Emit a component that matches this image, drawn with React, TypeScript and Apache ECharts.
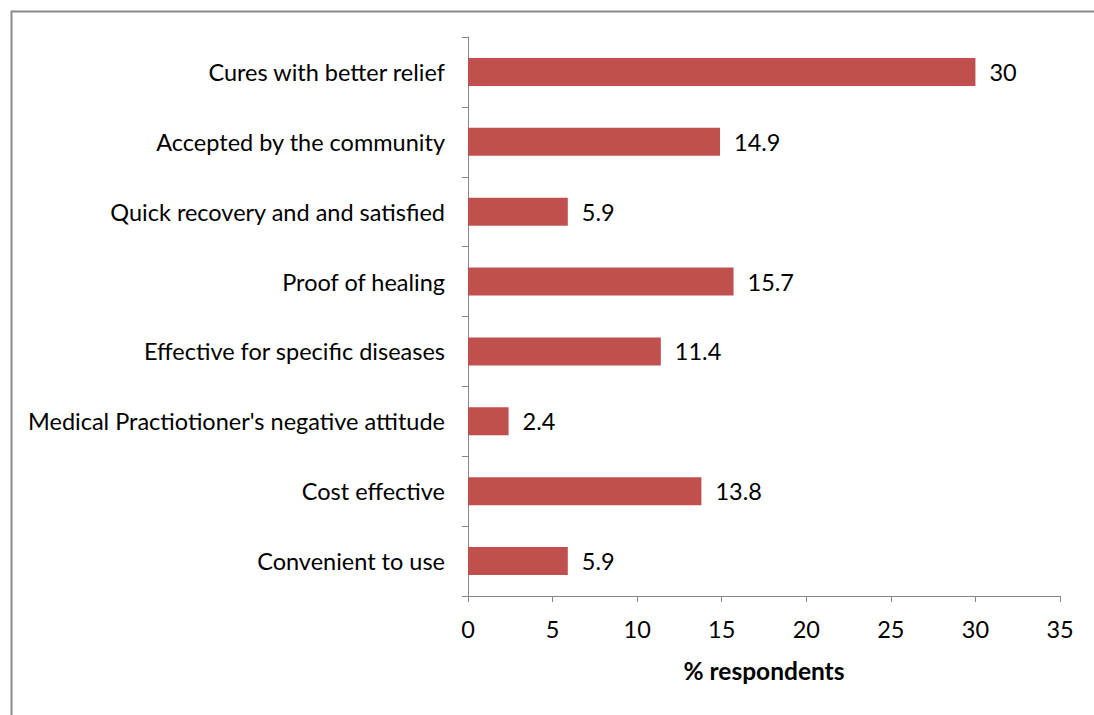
import React, { useEffect, useRef } from "react";
import * as echarts from "echarts";

// Reasons given by respondents, listed top to bottom
const categories = [
  "Cures with better relief",
  "Accepted by the community",
  "Quick recovery and and satisfied",
  "Proof of healing",
  "Effective for specific diseases",
  "Medical Practiotioner's negative attitude",
  "Cost effective",
  "Convenient to use",
];

// Share of respondents (%)
const percentages = [30, 14.9, 5.9, 15.7, 11.4, 2.4, 13.8, 5.9];

const xTicks = { min: 0, max: 35, interval: 5 };
const xTitle = "% respondents";

const FONT = "Lato, 'Open Sans', sans-serif";
const AXIS_GRAY = "#868686";
const BAR_RED = "#C0504D";
const TEXT_SIZE = 23.5;

export default function App() {
  const ref = useRef<HTMLDivElement>(null);

  useEffect(() => {
    if (!ref.current) return;
    const chart = echarts.init(ref.current, null, { renderer: "svg" });
    chart.setOption({
      animation: false,
      backgroundColor: "#ffffff",
      textStyle: { fontFamily: FONT },
      graphic: [
        {
          type: "rect",
          left: 9,
          top: 9,
          shape: { width: 1200, height: 800 },
          style: { fill: "none", stroke: "#8a8a8a", lineWidth: 2 },
          silent: true,
          z: 0,
        },
      ],
      grid: { left: 468, right: 34, top: 37, bottom: 119, containLabel: false },
      xAxis: {
        type: "value",
        min: xTicks.min,
        max: xTicks.max,
        interval: xTicks.interval,
        name: xTitle,
        nameLocation: "middle",
        nameGap: 62,
        nameTextStyle: { fontFamily: FONT, fontSize: 24.5, fontWeight: "bold", color: "#000" },
        axisLine: { show: true, lineStyle: { color: AXIS_GRAY, width: 1 } },
        axisTick: { show: true, length: 6, lineStyle: { color: AXIS_GRAY } },
        axisLabel: { margin: 21, fontSize: TEXT_SIZE, color: "#000", fontFamily: FONT },
        splitLine: { show: false },
      },
      yAxis: {
        type: "category",
        data: categories,
        inverse: true,
        axisLine: { show: true, lineStyle: { color: AXIS_GRAY, width: 1 } },
        axisTick: { show: true, length: 6, lineStyle: { color: AXIS_GRAY } },
        axisLabel: { margin: 23, fontSize: TEXT_SIZE, color: "#000", fontFamily: FONT },
        splitLine: { show: false },
      },
      series: [
        {
          type: "bar",
          data: percentages,
          barWidth: "40%",
          itemStyle: { color: BAR_RED },
          label: {
            show: true,
            position: "right",
            distance: 14,
            fontSize: TEXT_SIZE,
            color: "#000",
            fontFamily: FONT,
          },
        },
      ],
    });
    return () => chart.dispose();
  }, []);

  return (
    <div
      ref={ref}
      style={{ position: "absolute", left: 0, top: 0, width: 1094, height: 715 }}
    />
  );
}
